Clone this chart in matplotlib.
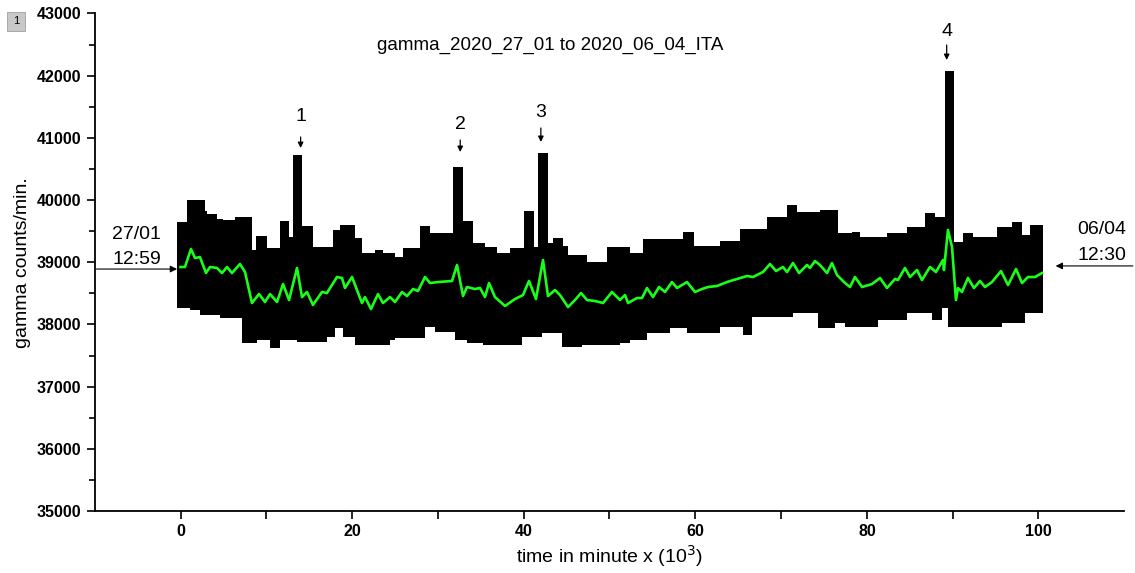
import numpy as np
import matplotlib
matplotlib.use("Agg")
import matplotlib.pyplot as plt
from matplotlib.patches import Rectangle

plt.rcParams['font.family'] = ['Liberation Sans', 'DejaVu Sans']

# ---------------- data (x in 10^3 minutes, y in counts/min) ----------------
band_end = 100.53

upper_x = [-0.41, 0.76, 2.86, 3.09, 4.25, 4.95, 6.35, 8.33, 8.80, 10.08, 11.60,
           12.65, 13.11, 14.16, 15.44, 17.77, 18.59, 20.34, 21.15, 22.67, 23.60,
           25.00, 25.93, 27.91, 29.08, 31.76, 32.93, 34.09, 35.49, 36.89, 38.40,
           40.03, 41.20, 41.67, 42.83, 43.42, 44.58, 45.17, 47.38, 49.71, 52.39,
           53.90, 58.57, 59.85, 62.88, 65.21, 68.36, 70.69, 71.85, 74.53, 76.63,
           78.26, 79.19, 82.34, 84.67, 86.77, 87.94, 89.10, 90.15, 91.20, 92.37,
           95.17, 96.91, 98.08, 99.01]
upper_y = [39650, 39994, 39817, 39780, 39700, 39672, 39732, 39200, 39426, 39233, 39667,
           39410, 40730, 39587, 39250, 39520, 39600, 39394, 39150, 39200, 39150,
           39088, 39233, 39587, 39475, 40537, 39667, 39313, 39250, 39150, 39233,
           39828, 39250, 40762, 39313, 39394, 39265, 39120, 39007, 39250, 39150,
           39378, 39490, 39265, 39346, 39540, 39732, 39925, 39813, 39845, 39474,
           39490, 39410, 39474, 39571, 39796, 39732, 42066, 39330, 39474, 39410,
           39571, 39651, 39442, 39603]

lower_x = [-0.41, 1.11, 2.27, 4.60, 7.17, 8.92, 10.43, 11.60, 13.58, 17.07, 18.01,
           18.94, 20.34, 24.42, 25.00, 28.50, 29.66, 32.00, 33.39, 35.26, 39.80,
           42.13, 44.46, 46.79, 51.22, 52.39, 54.37, 57.05, 59.03, 62.88, 65.56,
           66.61, 71.39, 74.30, 76.28, 77.45, 81.29, 84.67, 87.59, 88.75, 89.45,
           95.75, 98.43]
lower_y = [38267, 38235, 38154, 38105, 37703, 37750, 37620, 37750, 37720, 37800, 37945,
           37800, 37670, 37750, 37783, 37960, 37880, 37750, 37703, 37670, 37800,
           37864, 37640, 37670, 37703, 37750, 37864, 37945, 37864, 37960, 37832,
           38122, 38186, 37945, 38025, 37960, 38073, 38186, 38073, 38267, 37960,
           38025, 38186]

smooth_x = [0.0, 0.52, 1.22, 1.69, 2.27, 2.97, 3.44, 4.25, 4.84, 5.42, 6.00, 6.93,
            7.52, 8.33, 9.15, 9.85, 10.43, 11.25, 11.95, 12.65, 13.58, 14.16, 14.74,
            15.44, 16.49, 17.07, 18.24, 18.82, 19.17, 19.99, 21.15, 21.50, 22.20,
            23.02, 23.60, 24.42, 25.00, 25.82, 26.40, 27.10, 27.68, 28.50, 29.08,
            30.01, 31.64, 32.23, 32.93, 33.39, 34.32, 34.91, 35.49, 35.96, 36.65,
            37.82, 38.98, 39.92, 40.62, 41.43, 42.25, 42.83, 43.65, 44.23, 45.17,
            45.98, 46.68, 47.38, 48.31, 49.25, 50.29, 51.22, 51.81, 52.16, 53.21,
            53.79, 54.37, 55.07, 55.77, 56.47, 57.28, 57.87, 59.03, 59.97, 60.78,
            61.48, 62.53, 63.69, 64.86, 66.02, 66.72, 67.89, 68.71, 69.41, 70.22,
            70.69, 71.39, 72.09, 73.02, 73.37, 73.95, 74.53, 75.35, 75.93, 76.52,
            77.45, 78.03, 78.61, 79.43, 80.59, 81.53, 82.34, 83.27, 83.62, 84.44,
            85.02, 85.84, 86.42, 87.35, 88.05, 88.87, 88.98, 89.45, 89.92, 90.38,
            90.62, 91.08, 91.78, 92.48, 93.18, 93.76, 94.58, 95.63, 96.45, 97.38,
            98.08, 98.78, 99.59, 100.41]
smooth_y = [38923, 38923, 39212, 39067, 39083, 38826, 38923, 38907, 38826, 38923, 38826, 38971,
            38842, 38344, 38488, 38360, 38488, 38360, 38649, 38392, 38907, 38440, 38521,
            38312, 38521, 38505, 38762, 38746, 38585, 38762, 38344, 38440, 38247,
            38488, 38344, 38440, 38360, 38521, 38456, 38569, 38537, 38762, 38665,
            38681, 38698, 38955, 38456, 38601, 38569, 38585, 38440, 38665, 38440,
            38296, 38408, 38472, 38698, 38408, 39035, 38456, 38553, 38472, 38279,
            38392, 38505, 38392, 38376, 38344, 38521, 38392, 38472, 38344, 38424,
            38424, 38585, 38440, 38601, 38521, 38681, 38585, 38681, 38521, 38569,
            38601, 38617, 38681, 38730, 38778, 38762, 38842, 38971, 38858, 38923,
            38842, 38987, 38826, 38955, 38907, 39019, 38955, 38826, 38987, 38794,
            38665, 38601, 38762, 38601, 38649, 38746, 38585, 38730, 38714, 38907,
            38762, 38874, 38714, 38923, 38842, 39035, 38874, 39518, 39244, 38392,
            38585, 38521, 38746, 38585, 38698, 38601, 38681, 38858, 38633, 38890,
            38665, 38762, 38762, 38826]

peak_labels = ['1', '2', '3', '4']
peak_x = [14.0, 32.6, 42.0, 89.3]
peak_label_y = [41335, 41206, 41400, 42717]
arrow_start_y = [41013, 40965, 41158, 42492]
arrow_tip_y = [40836, 40772, 40933, 42251]

start_date, start_time = '27/01', '12:59'
end_date, end_time = '06/04', '12:30'
start_level = 38890
end_level = 38940

x_ticks = [0, 20, 40, 60, 80, 100]
y_ticks = [35000, 36000, 37000, 38000, 39000, 40000, 41000, 42000, 43000]

# ---------------- figure ----------------
fig = plt.figure(figsize=(11.35, 5.73), dpi=100)
ax = fig.add_axes([94.7 / 1135, 62 / 573, (1124.3 - 94.7) / 1135, (511 - 13.4) / 573])

# black band of raw counts (envelope as steps)
ux = np.array(upper_x); uy = np.array(upper_y)
lx = np.array(lower_x); ly = np.array(lower_y)
edges = np.union1d(np.append(ux, band_end), np.append(lx, band_end))
left = edges[:-1]
up = uy[np.searchsorted(ux, left, side='right') - 1]
lo = ly[np.searchsorted(lx, left, side='right') - 1]
ax.stairs(up, edges, baseline=lo, fill=True, color='black', zorder=2)

# smoothed green curve
ax.plot(smooth_x, smooth_y, color='#1aff1a', lw=1.9, zorder=3)

ax.set_xlim(-10, 110)
ax.set_ylim(35000, 43000)
ax.set_xticks(x_ticks)
ax.set_yticks(y_ticks)
ax.set_xticks(np.arange(10, 110, 20), minor=True)
ax.set_yticks(np.arange(35500, 43000, 1000), minor=True)
for s in ['top', 'right']:
    ax.spines[s].set_visible(False)
for s in ['left', 'bottom']:
    ax.spines[s].set_linewidth(1.3)
ax.tick_params(axis='both', which='major', direction='out', length=6, width=1.2,
               labelsize=11.5)
ax.tick_params(axis='both', which='minor', direction='out', length=4, width=1.2)
ax.tick_params(axis='x', which='minor', length=6)
for lab in ax.get_xticklabels() + ax.get_yticklabels():
    lab.set_fontweight('bold')

ax.set_xlabel('time in minute x (10$^3$)', fontsize=14, labelpad=3)
ax.set_ylabel('gamma counts/min.', fontsize=14, labelpad=4)

ax.text(0.442, 0.935, 'gamma_2020_27_01 to 2020_06_04_ITA', transform=ax.transAxes,
        ha='center', va='center', fontsize=13.5)

# peak labels with arrows
for lab, px, ty, a0, a1 in zip(peak_labels, peak_x, peak_label_y, arrow_start_y, arrow_tip_y):
    ax.annotate('', xy=(px, a1), xytext=(px, a0),
                arrowprops=dict(arrowstyle='-|>', color='black', lw=0.9,
                                mutation_scale=8, shrinkA=0, shrinkB=0))
    ax.text(px, ty, lab, ha='center', va='center', fontsize=14)

# start / end markers
ax.annotate('', xy=(-0.4, start_level), xytext=(-9.8, start_level),
            arrowprops=dict(arrowstyle='-|>', color='black', lw=0.8, mutation_scale=10,
                            shrinkA=0, shrinkB=0))
ax.text(-5.1, 39450, start_date, ha='center', va='center', fontsize=14)
ax.text(-5.1, 39040, start_time, ha='center', va='center', fontsize=14)
ax.annotate('', xy=(102.0, end_level), xytext=(111, end_level),
            arrowprops=dict(arrowstyle='-|>', color='black', lw=0.8, mutation_scale=10,
                            shrinkA=0, shrinkB=0),
            annotation_clip=False)
ax.text(107.4, 39520, end_date, ha='center', va='center', fontsize=14)
ax.text(107.4, 39100, end_time, ha='center', va='center', fontsize=14)

# small page marker at the top-left
fig.patches.append(Rectangle((7 / 1135, 1 - 31 / 573), 18 / 1135, 19 / 573,
                             transform=fig.transFigure, facecolor='#c8c8c8',
                             edgecolor='#a0a0a0', lw=0.6))
fig.text(16 / 1135, 1 - 21 / 573, '1', ha='center', va='center', fontsize=8)

fig.savefig('out.png', dpi=100)
